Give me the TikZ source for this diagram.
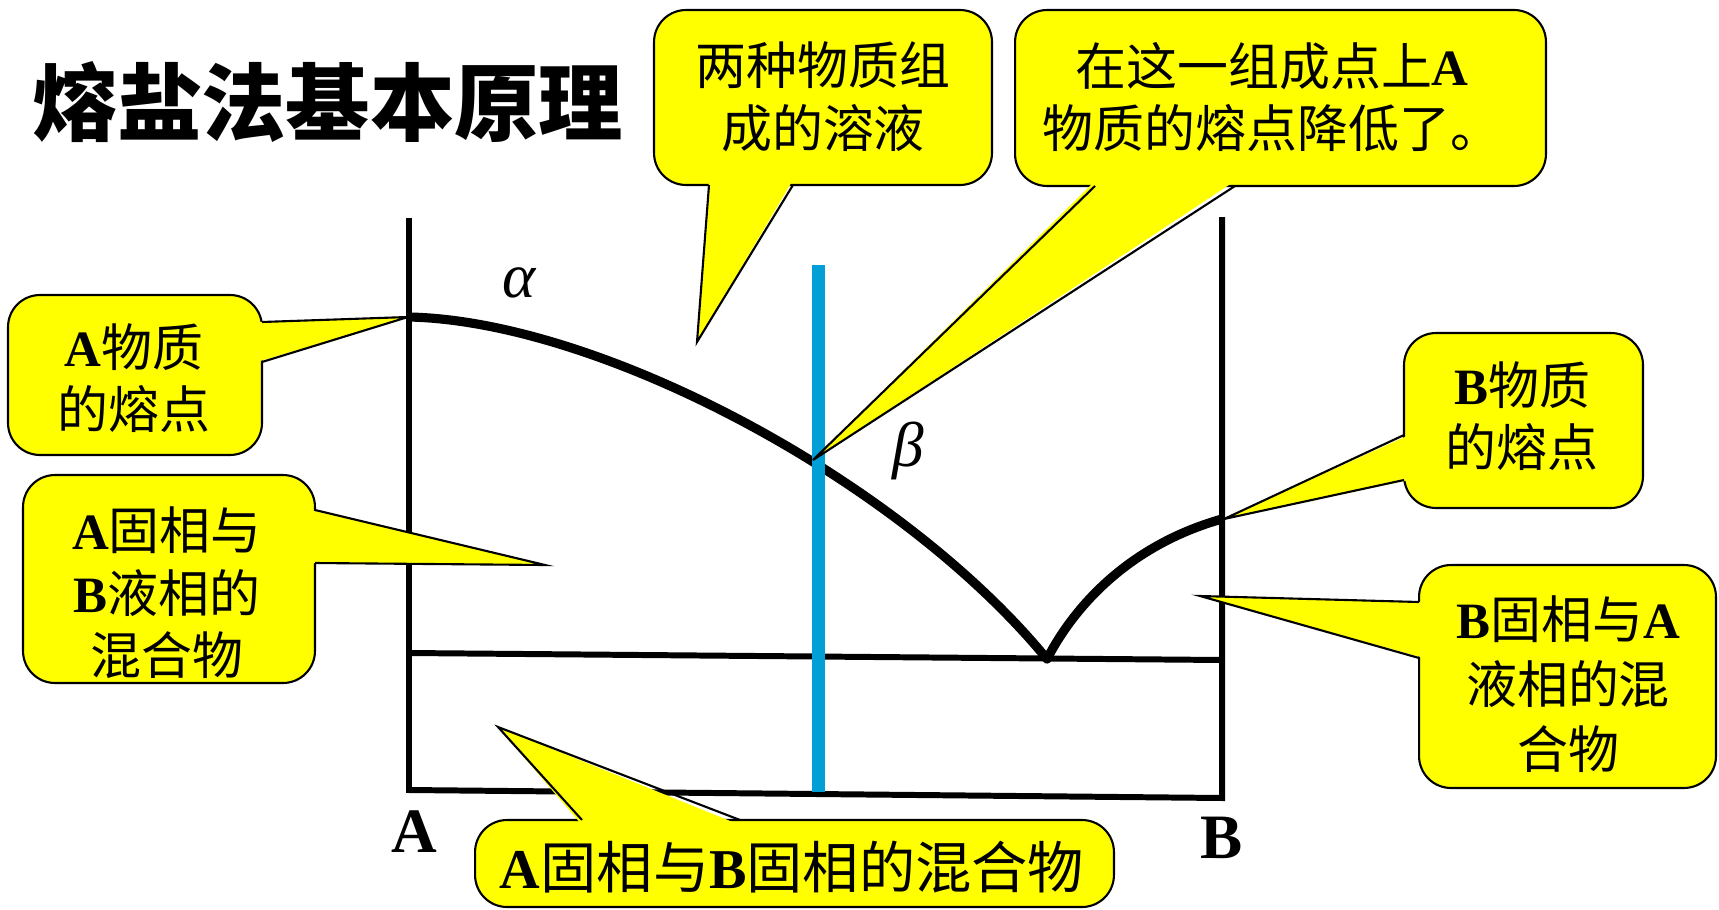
\documentclass[tikz,border=0pt]{standalone}
\usepackage{fontspec}
\setmainfont{Liberation Serif}
\newfontfamily\cjk{Noto Sans CJK SC}
\newcommand\LB[1]{{\rmfamily\bfseries #1}}
\definecolor{callyellow}{RGB}{255,255,0}
\definecolor{lineblue}{RGB}{0,160,214}
\begin{document}
\begin{tikzpicture}[x=0.02cm,y=-0.02cm,
  box/.style={draw=black, line width=1.2pt, fill=callyellow, rounded corners=0.64cm, inner sep=0pt},
  ctext/.style={font=\cjk\fontsize{29}{35.5}\selectfont, align=center, inner sep=0pt},
  ptr/.style={draw=black, line width=1.2pt, line join=miter},
  axisline/.style={line width=3.4pt, line join=miter},
  curveline/.style={line width=5.2pt, line join=round},
  blueline/.style={line width=7.4pt, draw=lineblue},
  greek/.style={font=\rmfamily\itshape\fontsize{36}{36}\selectfont, inner sep=0pt},
  axlabel/.style={font=\rmfamily\bfseries\fontsize{36}{36}\selectfont, inner sep=0pt}]
\useasboundingbox (0,0) rectangle (1719,909);

% title
\node[font=\cjk\bfseries\fontsize{48}{48}\selectfont, inner sep=0pt] (title) at (328,102) {熔盐法基本原理};

% chart frame
\coordinate (tl) at (409,218);
\coordinate (bl) at (409,790);
\coordinate (br) at (1222,798);
\coordinate (tr) at (1222,217);
\draw[axisline] (tl) -- (bl) -- (br) -- (tr);
\coordinate (el) at (409,653);
\coordinate (er) at (1222,660);
\draw[axisline] (el) -- (er);

% liquidus curves
\coordinate (meltA) at (409,317);
\coordinate (eut) at (1047,659);
\coordinate (meltB) at (1222,519);
\draw[curveline] (meltA) .. controls (600,321) and (900,480) .. (eut)
                 .. controls (1075,605) and (1130,545) .. (meltB);

% blue composition line
\coordinate (bt) at (818,265);
\coordinate (bb) at (818,792);
\draw[blueline] (bt) -- (bb);

% labels
\node[greek] (alpha) at (519,283) {α};
\node[greek] (beta) at (908,451) {β};
\node[axlabel] (labA) at (414,832) {A};
\node[axlabel] (labB) at (1222,838) {B};

% callout 1
\node[box, minimum width=6.76cm, minimum height=3.50cm] (c1) at (823,97.5) {};
\coordinate (c1tip) at (697,342);
\fill[callyellow] (709,180) -- (c1tip) -- (793,180) -- cycle;
\draw[ptr] (709,185) -- (c1tip) -- (793,185);
\node[ctext, text width=6cm] (c1t) at (823,97) {两种物质组\\成的溶液};

% callout 2
\node[box, minimum width=10.62cm, minimum height=3.52cm] (c2) at (1280.5,98) {};
\coordinate (c2tip) at (813,460);
\fill[callyellow] (1095,181) -- (c2tip) -- (1235,181) -- cycle;
\draw[ptr] (1095,186) -- (c2tip) -- (1235,186);
\node[ctext, text width=10cm] (c2t) at (1272,97) {在这一组成点上\LB{A}\\物质的熔点降低了。};

% callout 3
\node[box, minimum width=5.08cm, minimum height=3.2cm] (c3) at (135,375) {};
\coordinate (c3tip) at (408,317);
\fill[callyellow] (257,322) -- (c3tip) -- (257,362) -- cycle;
\draw[ptr] (262,322) -- (c3tip) -- (262,362);
\node[ctext, text width=4.8cm] (c3t) at (134,378) {\LB{A}物质\\的熔点};

% callout 4
\node[box, minimum width=5.84cm, minimum height=4.16cm] (c4) at (169,579) {};
\coordinate (c4tip) at (545,565);
\fill[callyellow] (310,510) -- (c4tip) -- (310,563) -- cycle;
\draw[ptr] (315,510) -- (c4tip) -- (315,563);
\node[ctext, text width=5.6cm] (c4t) at (167,593) {\LB{A}固相与\\\LB{B}液相的\\混合物};

% callout 5
\node[box, minimum width=4.78cm, minimum height=3.5cm] (c5) at (1523.5,420.5) {};
\coordinate (c5tip) at (1224,519);
\fill[callyellow] (1409,435) -- (c5tip) -- (1409,480) -- cycle;
\draw[ptr] (1404,435) -- (c5tip) -- (1404,480);
\node[ctext, text width=4.6cm] (c5t) at (1522,416) {\LB{B}物质\\的熔点};

% callout 6
\node[box, minimum width=5.94cm, minimum height=4.46cm] (c6) at (1567.5,676.5) {};
\coordinate (c6tip) at (1200,596);
\fill[callyellow] (1424,602) -- (c6tip) -- (1424,658) -- cycle;
\draw[ptr] (1419,602) -- (c6tip) -- (1419,658);
\node[ctext, text width=5.8cm, font=\cjk\fontsize{29}{37}\selectfont] (c6t) at (1568,684) {\LB{B}固相与\LB{A}\\液相的混\\合物};

% callout 7
\node[box, minimum width=12.78cm, minimum height=1.74cm] (c7) at (794.5,863.5) {};
\coordinate (c7tip) at (498,727);
\fill[callyellow] (582,825) -- (c7tip) -- (740,825) -- cycle;
\draw[ptr] (582,820) -- (c7tip) -- (740,820);
\node[ctext, font=\cjk\fontsize{32}{36}\selectfont] (c7t) at (792,867) {\LB{A}固相与\LB{B}固相的混合物};
\end{tikzpicture}
\end{document}
